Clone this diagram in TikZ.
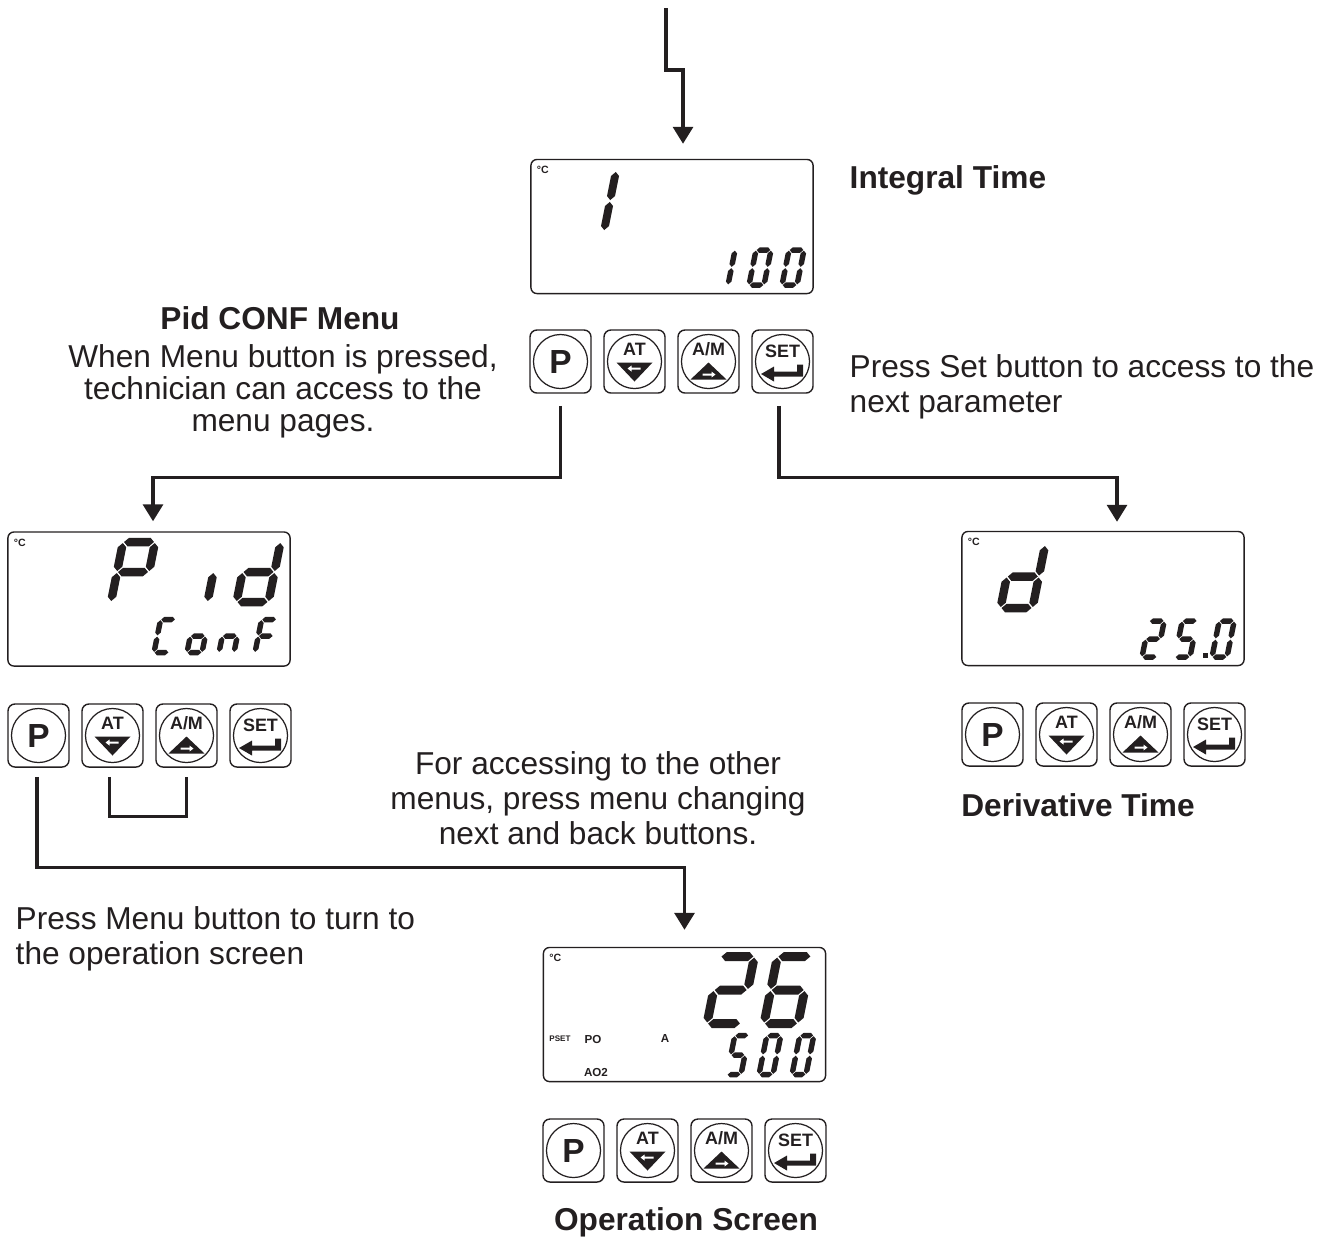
\documentclass[tikz,border=0pt]{standalone}
\usepackage{fontspec}
\setmainfont{Liberation Sans}
\usetikzlibrary{arrows.meta}
\definecolor{ink}{RGB}{35,31,32}

% seven-segment glyphs: \hseg{x0}{x1}{y}, \vseg{x}{y0}{y1}
\newcommand{\hseg}[3]{\fill (#1+\dgG,#3) -- (#1+\dgG+\dgT/2,#3+\dgT/2) -- (#2-\dgG-\dgT/2,#3+\dgT/2)
  -- (#2-\dgG,#3) -- (#2-\dgG-\dgT/2,#3-\dgT/2) -- (#1+\dgG+\dgT/2,#3-\dgT/2) -- cycle;}
\newcommand{\vseg}[3]{\fill (#1,#2+\dgG) -- (#1+\dgT/2,#2+\dgG+\dgT/2) -- (#1+\dgT/2,#3-\dgG-\dgT/2)
  -- (#1,#3-\dgG) -- (#1-\dgT/2,#3-\dgG-\dgT/2) -- (#1-\dgT/2,#2+\dgG+\dgT/2) -- cycle;}
\newcommand{\sega}{\hseg{0}{\dgW}{\dgH}}
\newcommand{\segb}{\vseg{\dgW}{\dgH/2}{\dgH}}
\newcommand{\segc}{\vseg{\dgW}{0}{\dgH/2}}
\newcommand{\segd}{\hseg{0}{\dgW}{0}}
\newcommand{\sege}{\vseg{0}{0}{\dgH/2}}
\newcommand{\segf}{\vseg{0}{\dgH/2}{\dgH}}
\newcommand{\segg}{\hseg{0}{\dgW}{\dgH/2}}
% \lcdchar{x}{y}{width}{height}{stroke}{segments}, (x,y) = lower left
\newcommand{\lcdchar}[6]{%
  \begin{scope}[shift={(#1,#2)}, xslant=0.2, yscale=-1, ink]
    \def\dgW{#3}\def\dgH{#4}\def\dgT{#5}\def\dgG{0.12*#5}
    \foreach \sgm in {#6} {\csname seg\sgm\endcsname}
  \end{scope}}
% \keypad{x}{y}{prefix}: the four keys, (x,y) = centre of the first one
\newcommand{\keypad}[3]{%
  \foreach \k [count=\i from 0] in {P,AT,AM,SET} {
    \node[keybox] (#3\k) at (#1+74*\i,#2) {};
    \node[keyring] (#3\k r) at (#3\k) {};
  }
  \node[keyP] (#3Pt) at (#3P) {P};
  \node[keylbl] (#3ATt) at ([yshift=0.12cm]#3AT.center) {AT};
  \node[keylbl] (#3AMt) at ([yshift=0.12cm]#3AM.center) {A/M};
  \node[keylbl] (#3SETt) at ([yshift=0.105cm]#3SET.center) {SET};
  \begin{scope}[shift={(#3AT)}]
    \fill[ink] (-18,1) -- (18,1) -- (0,20) -- cycle;
    \fill[white] (-7,7) -- (-3,4) -- (-3,6) -- (6,6) -- (6,8) -- (-3,8) -- (-3,10) -- cycle;
  \end{scope}
  \begin{scope}[shift={(#3AM)}]
    \fill[ink] (-18,18) -- (18,18) -- (0,1) -- cycle;
    \fill[white] (7,13) -- (3,10) -- (3,12) -- (-6,12) -- (-6,14) -- (3,14) -- (3,16) -- cycle;
  \end{scope}
  \begin{scope}[shift={(#3SET)}]
    \fill[ink] (-21.5,12.5) -- (-8.5,5) -- (-8.5,10) -- (14.5,10) -- (14.5,3) -- (20.5,3)
      -- (20.5,15) -- (-8.5,15) -- (-8.5,20) -- cycle;
  \end{scope}}

\begin{document}
\begin{tikzpicture}[x=0.01cm, y=-0.01cm,
  font=\fontsize{9}{10}\selectfont, text=ink,
  lcd/.style={draw=ink, line width=0.4pt, rounded corners=0.06cm,
              minimum width=2.82cm, minimum height=1.34cm, inner sep=0},
  keybox/.style={draw=ink, line width=0.4pt, rounded corners=0.07cm,
                 minimum width=0.61cm, minimum height=0.63cm, inner sep=0},
  keyring/.style={circle, draw=ink, line width=0.35pt, minimum size=0.54cm, inner sep=0},
  keyP/.style={font=\fontsize{9.5}{10}\selectfont\bfseries, inner sep=0},
  keylbl/.style={font=\fontsize{5.1}{5.5}\selectfont\bfseries, inner sep=0},
  unit/.style={font=\fontsize{3}{3}\selectfont\bfseries, inner sep=0, anchor=north west},
  tag/.style={font=\fontsize{3.3}{3.5}\selectfont\bfseries, inner sep=0},
  ttl/.style={font=\fontsize{9}{10}\selectfont\bfseries},
  txt/.style={anchor=west, align=left, inner sep=0},
  ar/.style={draw=ink, line width=0.033cm, -{Triangle[width=0.2cm, length=0.17cm]}},
  ln/.style={draw=ink, line width=0.033cm},
]
\useasboundingbox (0,0) rectangle (1337,1238);

% ---- displays -------------------------------------------------------------
\node[lcd] (d1) at (672,226.5)  {};
\node[lcd] (d2) at (149,599)    {};
\node[lcd] (d3) at (1103,598.5) {};
\node[lcd] (d4) at (684.5,1014.5) {};
\foreach \d in {d1,d2,d3,d4}
  \node[unit] (\d u) at ([shift={(0.06cm,-0.07cm)}]\d.north west) {°C};

% integral time: 1 / 100
\lcdchar{573}{231}{31}{60}{8}{b,c}
\lcdchar{713}{285}{15}{35}{5.5}{b,c}
\lcdchar{749}{285}{15}{35}{5.5}{a,b,c,d,e,f}
\lcdchar{782}{285}{15}{35}{5.5}{a,b,c,d,e,f}
% Pid / Conf
\lcdchar{111}{602}{32}{60}{8.5}{a,b,e,f,g}
\lcdchar{176.5}{602}{31}{60}{8.5}{c}
\lcdchar{236.5}{602}{32}{60}{8.5}{b,c,d,e,g}
\lcdchar{154}{652.5}{15}{33}{5.5}{a,d,e,f}
\lcdchar{187}{652.5}{15}{33}{5.5}{c,d,e,g}
\lcdchar{219}{652.5}{15}{33}{5.5}{c,e,g}
\lcdchar{255}{652.5}{15}{33}{5.5}{a,e,f,g}
% derivative time: d / 25.0
\lcdchar{1000.5}{608}{32}{63}{8.5}{b,c,d,e,g}
\lcdchar{1142}{657}{15}{36}{5.5}{a,b,d,e,g}
\lcdchar{1175}{657}{15}{36}{5.5}{a,c,d,f,g}
\lcdchar{1212}{657}{15}{36}{5.5}{a,b,c,d,e,f}
\fill[ink] (1203,653) rectangle (1208,658);
% operation screen: 26 / 500
\lcdchar{707}{1023.5}{34}{67}{9}{a,b,d,e,g}
\lcdchar{764}{1023.5}{34}{67}{9}{a,c,d,e,f,g}
\lcdchar{727}{1074.5}{14}{39}{5.5}{a,c,d,f,g}
\lcdchar{759}{1074.5}{14}{39}{5.5}{a,b,c,d,e,f}
\lcdchar{792}{1074.5}{14}{39}{5.5}{a,b,c,d,e,f}
\node[tag, font=\fontsize{2.3}{2.5}\selectfont\bfseries] (pset) at (560,1039) {PSET};
\node[tag] (po)  at (593,1039) {PO};
\node[tag] (amp) at (665,1038) {A};
\node[tag] (ao2) at (596,1072) {AO2};

% ---- keys -----------------------------------------------------------------
\keypad{560.5}{361.5}{k1}
\keypad{38.5}{735.5}{k2}
\keypad{992.5}{734.5}{k3}
\keypad{573.5}{1150.5}{k4}

% ---- texts ----------------------------------------------------------------
\node[ttl, anchor=west, inner sep=0] (tint) at (849,180) {Integral Time};
\node[txt] (nset) at (849,387) {Press Set button to access to the\\next parameter};
\node[ttl] (tpid) at (280,318) {Pid CONF Menu};
\node[align=center, font=\fontsize{9}{9.1}\selectfont] (npid) at (283,391)
  {When Menu button is pressed,\\technician can access to the\\menu pages.};
\node[align=center] (nnav) at (598,798)
  {For accessing to the other\\menus, press menu changing\\next and back buttons.};
\node[txt] (nmenu) at (15,939) {Press Menu button to turn to\\the operation screen};
\node[ttl] (tder) at (1078,805) {Derivative Time};
\node[ttl] (topr) at (686,1222) {Operation Screen};

% ---- connectors -----------------------------------------------------------
\coordinate (src) at (666,8);
\draw[ar, shorten >=0.15cm] (src) -- ++(0,62) -| ([xshift=0.11cm]d1.north);
\draw[ar, shorten >=0.10cm] ([yshift=-0.12cm]k1P.south) -- ++(0,72) -| ([xshift=0.04cm]d2.north);
\draw[ar, shorten >=0.09cm] ([shift={(-0.035cm,-0.12cm)}]k1SET.south) -- ++(0,72) -| ([xshift=0.14cm]d3.north);
\draw[ln] ([shift={(-0.03cm,-0.09cm)}]k2AT.south) -- ++(0,40) -| ([yshift=-0.09cm]k2AM.south);
\draw[ar, shorten >=0.17cm] ([shift={(-0.015cm,-0.09cm)}]k2P.south) -- ++(0,91) -| (d4.north);

\end{tikzpicture}
\end{document}
